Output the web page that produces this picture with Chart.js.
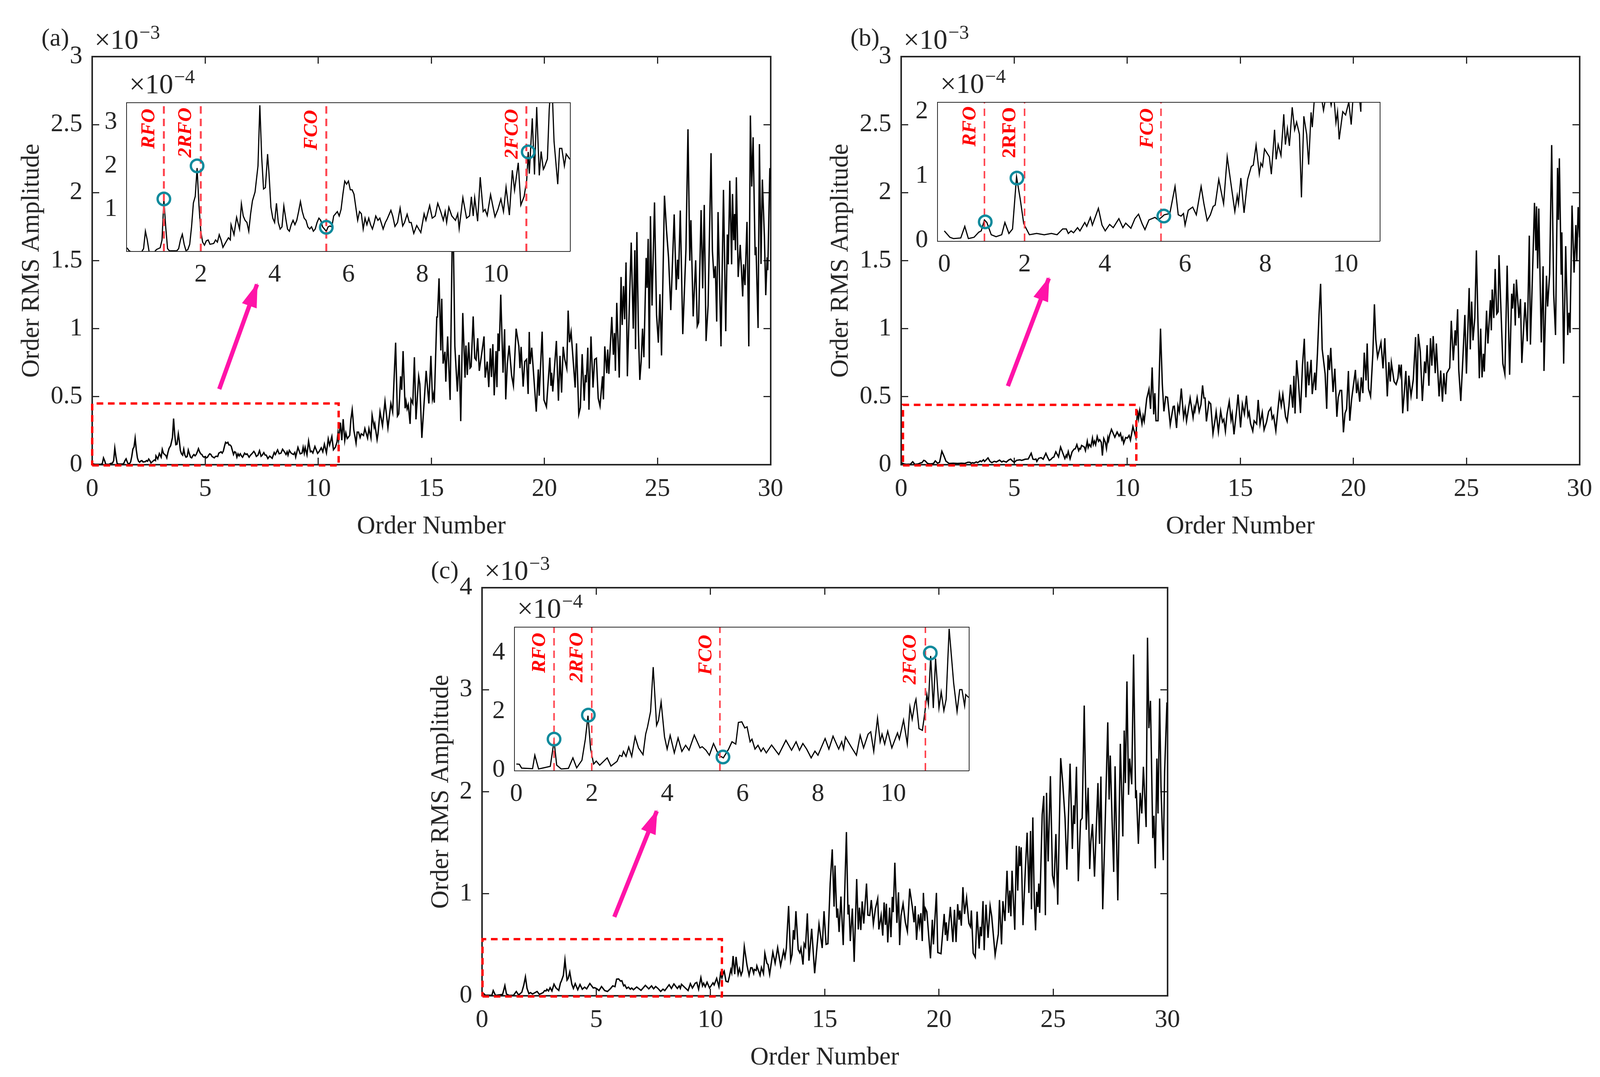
<!DOCTYPE html>
<html>
<head>
<meta charset="utf-8">
<script src="https://cdn.jsdelivr.net/npm/chart.js@4/dist/chart.umd.min.js"></script>
<style>
  html, body { margin: 0; padding: 0; background: #fff; width: 4111px; height: 2758px; overflow: hidden; }
  canvas { position: absolute; }
</style>
</head>
<body>
<script>
// order number, amplitude in units of 1e-4
const traceA = [[0,.12],[.05,.06],[.1,.03],[.4,.03],[.45,.1],[.5,.5],[.55,.3],[.6,.03],[.75,.03],[.8,.08],[.9,.12],[.95,.3],[1,1.22],[1.05,.6],[1.1,.1],[1.15,.05],[1.35,.05],[1.4,.1],[1.45,.3],[1.5,.43],[1.55,.2],[1.6,.05],[1.65,.08],[1.7,.2],[1.75,.6],[1.8,1.15],[1.85,1.3],[1.9,1.95],[1.95,1.1],[2,.5],[2.05,.25],[2.1,.18],[2.15,.28],[2.2,.3],[2.25,.2],[2.35,.22],[2.4,.3],[2.45,.25],[2.5,.42],[2.55,.3],[2.6,.13],[2.7,.28],[2.75,.35],[2.8,.3],[2.82,.65],[2.9,.42],[2.97,.82],[3.05,.55],[3.1,1.13],[3.15,.85],[3.2,.75],[3.25,.7],[3.3,.5],[3.35,.9],[3.4,1.2],[3.47,1.4],[3.55,2],[3.6,3.39],[3.65,2.2],[3.7,1.47],[3.75,1.5],[3.81,2.27],[3.85,1.8],[3.9,1.05],[3.95,.8],[4,.7],[4.05,1.14],[4.1,.7],[4.15,.55],[4.2,.6],[4.25,1.08],[4.3,.8],[4.35,.55],[4.4,.5],[4.45,.65],[4.5,.75],[4.55,.65],[4.6,.75],[4.65,.95],[4.7,1.18],[4.75,.95],[4.8,.8],[4.85,.75],[4.9,.6],[4.95,.55],[5,.6],[5.05,.5],[5.1,.55],[5.15,.7],[5.2,.8],[5.25,.75],[5.3,.6],[5.35,.55],[5.4,.5],[5.45,.6],[5.5,.62],[5.55,.6],[5.6,.85],[5.65,.9],[5.7,.95],[5.75,.85],[5.8,1],[5.85,1.35],[5.9,1.65],[5.95,1.58],[6,1.65],[6.05,1.45],[6.1,1.45],[6.15,1.35],[6.2,1.05],[6.25,.75],[6.3,.95],[6.35,.9],[6.4,.55],[6.45,.8],[6.5,.65],[6.55,.8],[6.6,.65],[6.65,.55],[6.7,.7],[6.74,.85],[6.8,.75],[6.85,.8],[6.94,.55],[7,.7],[7.05,.78],[7.15,.98],[7.2,.85],[7.26,.61],[7.33,.7],[7.4,1.03],[7.47,.62],[7.52,.7],[7.59,.89],[7.65,.7],[7.7,.7],[7.77,.45],[7.85,.63],[7.96,.47],[8.05,.9],[8.1,.75],[8.2,1.09],[8.27,.8],[8.35,.85],[8.42,1.14],[8.5,.95],[8.57,.75],[8.62,.95],[8.66,.7],[8.72,1.05],[8.8,.85],[8.9,.75],[8.96,.9],[9,.56],[9.1,1.27],[9.2,.8],[9.28,.85],[9.33,1.29],[9.38,.85],[9.42,1.27],[9.5,.73],[9.57,1.74],[9.65,.95],[9.7,1],[9.76,.86],[9.85,1.34],[9.97,.83],[10.05,1],[10.13,1.24],[10.2,.95],[10.27,1.51],[10.36,.87],[10.44,1.9],[10.5,1.44],[10.6,2.07],[10.67,1.1],[10.76,1.3],[10.83,1.68],[10.87,2.32],[10.9,1.82],[10.98,3.09],[11.04,1.8],[11.1,3.35],[11.17,1.78],[11.22,2.33],[11.28,1.92],[11.3,1.95],[11.39,2.16],[11.44,3.3],[11.5,4.05],[11.53,3.5],[11.57,2.56],[11.67,1.58],[11.72,2.4],[11.78,2.4],[11.85,2],[11.9,2.27],[12,2.15],[12.06,2.66],[12.18,1.95],[12.24,2.66],[12.33,1.97],[12.38,3.64],[12.47,2.77],[12.5,3],[12.6,1.84],[12.64,2.26],[12.73,3.9],[12.84,2.85],[12.95,4.66],[13.08,2.7],[13.21,4.5],[13.29,3.87],[13.42,8.97],[13.5,3.57],[13.56,3.74],[13.64,6.5],[13.69,5.5],[13.75,8.35],[13.84,4.15],[13.88,4.66],[13.93,4.1],[13.98,4.4],[14.06,3],[14.1,4.8],[14.18,4.5],[14.25,7.9],[14.32,3.33],[14.44,6.5],[14.49,5.94],[14.58,1.97],[14.77,6.9],[14.89,4.5],[14.98,8],[15.05,4.8],[15.1,5.2],[15.13,4.56],[15.24,10.86],[15.27,10.86],[15.34,13.7],[15.42,8.4],[15.46,12.2],[15.52,7.43],[15.6,8.3],[15.64,6.1],[15.72,9.43],[15.83,4.76],[15.93,17.5],[15.97,17],[16.04,8.7],[16.15,5.38],[16.23,8.07],[16.3,3.2],[16.39,11.15],[16.49,6.4],[16.53,8.76],[16.59,6.6],[16.65,9],[16.71,7.1],[16.76,7.2],[16.85,10.9],[16.92,7.84],[16.98,7.7],[17.05,9.3],[17.12,6.9],[17.23,8.2],[17.33,9.43],[17.38,6.4],[17.47,7.58],[17.54,5.7],[17.61,8.55],[17.66,6.45],[17.72,8.86],[17.78,5.1],[17.86,8.35],[17.9,5.7],[17.95,9.65],[18,8.35],[18.07,12.5],[18.17,6.76],[18.24,9.96],[18.29,4.8],[18.36,7.4],[18.44,8.76],[18.55,6.56],[18.63,5.8],[18.75,10],[18.87,8.7],[18.92,7.1],[18.97,8.66],[19.06,5.74],[19.13,7.58],[19.21,7.74],[19.28,5.2],[19.33,9.76],[19.37,7.4],[19.44,8.6],[19.64,3.9],[19.73,7],[19.77,5.07],[19.9,9.78],[19.98,4.76],[20.09,4.25],[20.24,7.87],[20.29,5.8],[20.32,6.76],[20.37,5.38],[20.53,9.1],[20.62,4.7],[20.69,8],[20.76,5.3],[20.83,8.67],[20.9,7.74],[20.99,7.07],[21.05,11.33],[21.11,9],[21.18,9.76],[21.36,5.67],[21.42,8.92],[21.52,3.7],[21.59,4.2],[21.67,8.13],[21.76,4.7],[21.81,6.6],[21.85,6.05],[21.92,8.6],[21.97,4.04],[22.06,9.43],[22.15,5.67],[22.22,7.74],[22.3,7.83],[22.38,4.88],[22.46,4.3],[22.57,6.5],[22.61,4.8],[22.67,8.7],[22.76,6.73],[22.8,8.47],[22.85,6.68],[22.98,10.86],[23.05,8.08],[23.1,9.68],[23.14,6.9],[23.2,11.9],[23.31,6.4],[23.39,13.8],[23.44,10.27],[23.5,13.13],[23.55,10.69],[23.61,14.87],[23.67,6.5],[23.77,12.46],[23.84,16.33],[23.93,10],[24,15.77],[24.03,8.5],[24.09,17.1],[24.16,9.6],[24.22,6.23],[24.28,7.6],[24.34,10],[24.4,7.9],[24.5,15.2],[24.54,13],[24.59,16.6],[24.64,7.07],[24.69,18.27],[24.76,11.7],[24.87,19.28],[24.96,11.03],[25.04,8.97],[25.11,12.54],[25.18,8.03],[25.31,19.78],[25.4,17.26],[25.49,15.24],[25.59,11.36],[25.74,18.4],[25.83,12.85],[25.89,15.07],[25.93,13.64],[26.01,18.69],[26.12,9.6],[26.26,15.82],[26.35,24.66],[26.43,15],[26.48,17.98],[26.58,10.9],[26.69,15.03],[26.76,10.19],[26.82,10.45],[26.93,18.72],[27,12.96],[27.07,19.1],[27.15,9.09],[27.24,11.7],[27.37,22.9],[27.43,15.74],[27.5,13.72],[27.56,14.6],[27.62,10.52],[27.68,18.57],[27.81,8.7],[27.92,20.2],[28.02,9.81],[28.09,16.92],[28.13,14.73],[28.2,20.88],[28.28,14.73],[28.32,19.9],[28.37,16.5],[28.41,18.43],[28.45,15.77],[28.49,21.13],[28.57,13.8],[28.66,16.16],[28.77,12.37],[28.81,14.73],[28.87,13.2],[28.96,17.85],[29.04,8.7],[29.11,25.67],[29.17,20.45],[29.23,24.07],[29.32,15.4],[29.36,16],[29.45,10.05],[29.51,23.57],[29.58,14.76],[29.64,20.96],[29.73,16.75],[29.79,12.46],[29.85,15.24],[29.88,14.3],[29.97,21.8],[30,21]];

const traceB = [[0,.15],[.14,.05],[.23,.03],[.41,.04],[.51,.22],[.6,.03],[.74,.05],[.86,.13],[.92,.15],[1,.32],[1.06,.28],[1.17,.09],[1.29,.06],[1.43,.09],[1.51,.28],[1.61,.11],[1.7,.18],[1.8,.99],[1.89,.65],[1.98,.26],[2.12,.09],[2.3,.11],[2.49,.09],[2.67,.11],[2.81,.09],[2.95,.18],[3.04,.18],[3.09,.11],[3.16,.15],[3.22,.12],[3.32,.2],[3.38,.15],[3.5,.28],[3.55,.22],[3.64,.36],[3.69,.24],[3.84,.5],[3.93,.24],[4.01,.15],[4.12,.25],[4.21,.2],[4.35,.34],[4.45,.2],[4.52,.27],[4.65,.19],[4.75,.34],[4.84,.41],[4.93,.26],[5,.17],[5.1,.32],[5.25,.36],[5.33,.32],[5.41,.36],[5.48,.4],[5.62,.42],[5.75,.84],[5.83,.4],[5.9,.38],[5.96,.42],[6,.24],[6.08,.47],[6.19,.52],[6.28,.4],[6.4,.84],[6.47,.57],[6.55,.31],[6.63,.4],[6.7,.53],[6.75,.55],[6.84,.95],[6.96,.57],[7.05,1.3],[7.24,.45],[7.3,.7],[7.33,.57],[7.39,.97],[7.47,.43],[7.56,.95],[7.65,1.15],[7.7,1.17],[7.77,1.48],[7.85,1.03],[7.89,1.2],[7.93,1.15],[7.98,1.42],[8.1,1.3],[8.15,1.03],[8.23,1.72],[8.27,1.26],[8.32,1.49],[8.39,1.32],[8.46,1.96],[8.5,1.49],[8.55,1.74],[8.6,1.47],[8.67,2.07],[8.73,1.72],[8.78,1.84],[8.85,1.65],[8.9,.67],[8.96,1.93],[9.03,1.65],[9.08,1.18],[9.14,1.99],[9.17,1.76],[9.22,2.18],[9.3,2.6],[9.45,2.02],[9.55,2.4],[9.64,2.1],[9.7,2.3],[9.76,1.83],[9.8,2],[9.84,1.57],[9.93,2],[10,1.95],[10.08,2.15],[10.14,1.8],[10.25,2.8],[10.38,2],[10.45,4],[10.5,3.38],[10.55,4],[10.65,3],[10.7,3.6],[10.75,3.2],[10.86,4.86],[10.96,5.55],[11.03,4.1],[11.1,7.15],[11.17,3.7],[11.22,5.26],[11.27,3.23],[11.36,3.23],[11.47,10],[11.55,5.9],[11.62,3.92],[11.7,5],[11.78,4.95],[11.9,2.93],[12.03,4.28],[12.08,4.3],[12.18,2.7],[12.24,4.33],[12.3,3.88],[12.39,5.6],[12.49,3.47],[12.56,4.14],[12.62,3.2],[12.78,4.9],[12.91,3.47],[12.96,4.2],[12.99,3.95],[13.09,4.93],[13.18,3.9],[13.26,4.43],[13.33,5.83],[13.39,4.9],[13.44,4.9],[13.5,3.18],[13.61,4.62],[13.69,4.47],[13.79,2.28],[13.89,3.38],[13.93,3.9],[14.03,2.42],[14.13,3.95],[14.21,3.14],[14.27,3.33],[14.34,2.45],[14.41,3.71],[14.51,4.65],[14.59,3.28],[14.64,3.76],[14.72,2.23],[14.84,4.09],[14.9,5.16],[15.01,2.74],[15.09,4.45],[15.18,3.73],[15.27,5.07],[15.34,3.57],[15.39,3.85],[15.45,3.04],[15.55,2.47],[15.61,3.23],[15.72,3],[15.79,4.76],[15.87,2.97],[15.97,3.85],[16.05,2.56],[16.16,3.14],[16.25,3.9],[16.35,4.17],[16.41,3.38],[16.47,3.6],[16.57,2.49],[16.73,5.19],[16.81,4.33],[16.88,5.17],[17,3.52],[17.07,3.18],[17.15,4.33],[17.22,5.88],[17.32,4.19],[17.37,6.53],[17.42,3.76],[17.49,7.68],[17.57,6.1],[17.66,3.8],[17.75,7.35],[17.83,9.26],[17.9,4.95],[17.97,7.58],[18.03,5.83],[18.13,7.71],[18.18,5.19],[18.29,6.77],[18.33,5.48],[18.41,8.16],[18.48,11],[18.55,13.3],[18.62,8.5],[18.75,6.68],[18.82,4.11],[18.88,8.06],[18.94,6.96],[19,8.59],[19.1,5.34],[19.18,7.06],[19.27,3.52],[19.33,4.95],[19.41,5.46],[19.48,5.46],[19.56,2.38],[19.63,3.78],[19.7,4.09],[19.78,6.89],[19.84,3.23],[19.92,4.79],[20.09,6.97],[20.14,5.26],[20.2,6],[20.28,4.63],[20.35,6.42],[20.42,5.26],[20.48,8.24],[20.56,6.19],[20.61,8.91],[20.67,5.57],[20.76,5.02],[20.86,8.13],[20.93,11.79],[20.99,9.22],[21.07,7.9],[21.22,8.99],[21.31,7.08],[21.39,9.3],[21.5,5.02],[21.57,7.54],[21.63,6.11],[21.68,7.51],[21.8,6.11],[21.89,5.9],[21.97,6.35],[22.02,7.36],[22.07,6.65],[22.12,7.36],[22.18,3.78],[22.25,5.26],[22.32,6.89],[22.4,3.93],[22.45,6.55],[22.55,5.05],[22.65,6.27],[22.75,9.38],[22.81,4.84],[22.87,9.61],[22.96,8.29],[23.05,4.68],[23.15,7.59],[23.2,6.73],[23.26,8.79],[23.34,5.8],[23.41,9.3],[23.47,7.28],[23.53,9.46],[23.62,6.73],[23.67,8.91],[23.79,5.02],[23.86,6.92],[23.94,4.63],[24,6.73],[24.08,5.18],[24.13,6.73],[24.26,7.12],[24.33,10.58],[24.42,7.67],[24.5,9.88],[24.54,8.76],[24.61,11.43],[24.66,6.97],[24.75,4.68],[24.83,7.36],[24.93,11.01],[25,6.7],[25.12,12.99],[25.17,8.48],[25.23,11.99],[25.29,9.14],[25.37,10.78],[25.44,15.75],[25.51,10.47],[25.57,6.35],[25.63,10],[25.69,6.42],[25.75,8.16],[25.79,6.85],[25.89,11.32],[25.95,8.91],[26.06,12.1],[26.1,9.88],[26.14,12.88],[26.21,10.78],[26.27,14.39],[26.34,11.09],[26.4,11.24],[26.44,15.41],[26.53,11.24],[26.61,7.43],[26.7,6.66],[26.8,14.63],[26.91,6.61],[27,12.57],[27.04,11.48],[27.1,13.31],[27.16,10.23],[27.21,13.61],[27.32,10.78],[27.39,12.18],[27.45,7.48],[27.59,11.94],[27.69,9.07],[27.78,16.84],[27.83,8.83],[27.89,12.18],[28.01,19.25],[28.07,15.75],[28.1,18.99],[28.15,14.43],[28.2,18.83],[28.31,8.99],[28.39,14.59],[28.43,6.89],[28.54,13.89],[28.59,11.63],[28.68,14.04],[28.77,23.5],[28.86,12.49],[28.94,9.53],[29.03,21.82],[29.07,18],[29.11,22.52],[29.19,13.97],[29.22,17.08],[29.3,7.43],[29.39,16.07],[29.48,9.53],[29.53,11.17],[29.58,9.69],[29.67,19.05],[29.76,14.12],[29.84,17.62],[29.88,14.95],[29.94,18.94],[30,16.7]];

const traceC = [[0,.21],[.08,.2],[.14,.07],[.43,.05],[.49,.51],[.59,.04],[.9,.13],[1,1],[1.07,.17],[1.19,.04],[1.38,.06],[1.5,.42],[1.6,.08],[1.74,.34],[1.83,1.06],[1.9,1.86],[1.97,.72],[2.05,.21],[2.12,.31],[2.21,.17],[2.41,.42],[2.51,.14],[2.67,.3],[2.74,.51],[2.8,.47],[2.84,.64],[2.91,.47],[2.98,.79],[3.06,.47],[3.15,1.14],[3.24,.76],[3.36,.53],[3.43,1.23],[3.48,1.48],[3.56,2],[3.63,3.52],[3.72,1.53],[3.77,1.7],[3.84,2.33],[3.93,1.14],[4,.72],[4.08,1.19],[4.19,.59],[4.29,1.1],[4.39,.64],[4.49,.85],[4.58,.68],[4.72,1.2],[4.87,.76],[4.93,.8],[5.03,.68],[5.12,.51],[5.23,.91],[5.37,.51],[5.49,.42],[5.63,.72],[5.72,.97],[5.82,.89],[5.89,1.63],[5.98,1.65],[6.06,1.44],[6.12,1.48],[6.2,.97],[6.25,1.06],[6.33,.72],[6.41,.85],[6.49,.64],[6.55,.76],[6.63,.59],[6.77,.86],[6.96,.53],[7.15,1.02],[7.3,.68],[7.42,.97],[7.51,.68],[7.6,.91],[7.7,.72],[7.82,.42],[7.92,.65],[8,.51],[8.19,1.08],[8.29,.72],[8.4,1.16],[8.55,.72],[8.63,.97],[8.68,.72],[8.73,1.13],[8.88,.8],[9.02,.51],[9.12,1.19],[9.21,.76],[9.33,1.23],[9.4,1.31],[9.48,.64],[9.58,1.78],[9.65,.97],[9.7,1.23],[9.77,.89],[9.85,1.33],[9.96,.76],[10.11,1.27],[10.16,1.06],[10.27,1.71],[10.37,.89],[10.44,2.16],[10.5,1.74],[10.57,2.29],[10.6,2.42],[10.68,1.42],[10.77,1.36],[10.83,1.91],[10.89,2.58],[10.93,2.25],[10.99,3.9],[11.06,2.12],[11.12,3.81],[11.21,2.12],[11.27,2.67],[11.34,2.03],[11.4,2.42],[11.48,4.83],[11.6,2.97],[11.69,2],[11.76,2.75],[11.82,2.75],[11.89,2.2],[11.92,2.58],[12,2.48],[12.03,2.93],[12.17,2],[12.23,2.77],[12.32,2.17],[12.38,4.17],[12.47,3.19],[12.52,3.06],[12.59,2.1],[12.73,4.27],[12.83,3.19],[12.94,4.72],[13.07,2.93],[13.2,4.4],[13.26,3.76],[13.32,4.66],[13.42,8.8],[13.51,3.44],[13.57,4.02],[13.63,6.44],[13.68,5.5],[13.74,8.29],[13.84,4.53],[13.91,4.21],[13.96,4.66],[14.05,3.06],[14.1,5.1],[14.16,4.78],[14.24,8.07],[14.31,3.44],[14.43,6.57],[14.56,2.21],[14.75,7.02],[14.89,4.68],[14.97,8.29],[15.06,5.04],[15.14,5.1],[15.24,11.03],[15.33,14.35],[15.41,8.74],[15.45,12.76],[15.53,7.65],[15.57,8.55],[15.63,6.25],[15.71,9.73],[15.81,4.97],[15.95,16.05],[16.02,7.97],[16.06,8.93],[16.12,5.36],[16.21,8.55],[16.29,3.32],[16.4,11.44],[16.47,6.5],[16.52,8.64],[16.58,6.44],[16.64,9.25],[16.71,7.08],[16.83,11],[16.89,7.9],[16.97,7.87],[17.04,9.38],[17.13,7.02],[17.22,8.55],[17.32,9.53],[17.37,6.5],[17.47,7.9],[17.54,5.9],[17.6,9.15],[17.66,6.95],[17.7,9.02],[17.76,5.23],[17.84,8.64],[17.9,5.74],[17.96,9.69],[18,8.2],[18.07,13.04],[18.16,7.14],[18.23,10.14],[18.28,4.97],[18.34,7.84],[18.43,9.02],[18.53,7.2],[18.62,6.29],[18.72,10.5],[18.83,8.8],[18.91,7.2],[18.96,8.8],[19.02,5.48],[19.1,7.97],[19.15,6.85],[19.21,8.1],[19.27,5.36],[19.32,10.08],[19.38,7.33],[19.41,8.55],[19.47,8.25],[19.63,3.67],[19.71,7.45],[19.76,5.04],[19.89,10.08],[19.95,4.24],[20.09,4.12],[20.23,8.02],[20.28,5.96],[20.32,7.2],[20.37,5.38],[20.5,8.71],[20.61,5.27],[20.68,8.43],[20.75,5.27],[20.82,8.98],[20.88,7.45],[20.92,8.36],[20.98,6.87],[21.05,10.65],[21.12,8.02],[21.21,9.62],[21.31,7.1],[21.38,6.76],[21.42,8.36],[21.5,4.17],[21.59,3.78],[21.67,8.25],[21.76,4.63],[21.81,6.76],[21.86,5.84],[21.93,9.28],[21.98,4.47],[22.06,8.93],[22.15,5.68],[22.24,8.82],[22.31,7.79],[22.46,4],[22.6,6.07],[22.65,9.39],[22.74,5.04],[22.8,9.28],[22.89,7.33],[22.98,12.26],[23.05,8.13],[23.1,10.31],[23.15,7.79],[23.2,12.26],[23.32,6.46],[23.39,14.71],[23.45,10.31],[23.51,14.66],[23.55,12.71],[23.6,14.55],[23.68,6.92],[23.78,12.26],[23.86,15.99],[23.94,10.08],[24.01,16.15],[24.05,8.48],[24.11,17.48],[24.17,9.62],[24.23,6.41],[24.28,10.19],[24.33,8.7],[24.37,11],[24.41,8.13],[24.52,17.75],[24.59,19.59],[24.66,7.9],[24.71,19.89],[24.78,13.17],[24.88,21.53],[24.97,11.8],[25.04,11],[25.12,15.85],[25.2,8.93],[25.33,23.3],[25.42,20.85],[25.52,17.41],[25.6,12.37],[25.74,22.75],[25.84,14.39],[25.9,18.67],[25.94,16.84],[26.02,22.45],[26.1,11.23],[26.2,17.18],[26.27,17.41],[26.36,28.45],[26.45,16.27],[26.53,20.39],[26.6,12.42],[26.65,15.12],[26.72,16.84],[26.81,11.68],[26.96,20.85],[27.03,14.89],[27.09,21.49],[27.17,8.48],[27.27,16.27],[27.39,26.8],[27.45,19.24],[27.5,23.55],[27.58,17.18],[27.65,12.14],[27.71,22.5],[27.83,9.35],[27.94,24.7],[28.05,15.62],[28.11,26],[28.16,20.85],[28.23,30.81],[28.3,19.7],[28.35,23.25],[28.44,20.73],[28.52,33.45],[28.61,19.36],[28.64,20.16],[28.73,14.89],[28.81,19.89],[28.88,17.87],[28.95,22.45],[29.07,16.54],[29.13,35.1],[29.19,26.23],[29.26,28.91],[29.36,15.46],[29.41,17.64],[29.47,12.49],[29.54,23.25],[29.59,17.87],[29.66,29.14],[29.72,20.5],[29.82,13.29],[29.88,22],[29.98,28.75],[30,28]];

// marked orders and circled peaks in the insets
const rfoLinesA = [1, 2, 5.4, 10.82];
const rfoLinesB = [1, 2, 5.4];
const rfoLinesC = [1, 2, 5.4, 10.85];
const circlesA = [[1, 1.24], [1.9, 2], [5.4, .59], [10.87, 2.32]];
const circlesB = [[1.02, .29], [1.81, .97], [5.47, .38]];
const circlesC = [[1, 1.06], [1.91, 1.88], [5.48, .45], [10.98, 4]];
const orderNamesA = ['RFO', '2RFO', 'FCO', '2FCO'];
const orderNamesB = ['RFO', '2RFO', 'FCO'];
const orderNamesC = ['RFO', '2RFO', 'FCO', '2FCO'];

// zoomed region box and arrow, in main axis units
const boxA = [[0, -.005], [10.9, -.005], [10.9, .45], [0, .45], [0, -.005]];
const boxB = [[.08, -.005], [10.4, -.005], [10.4, .44], [.08, .44], [.08, -.005]];
const boxC = [[.02, -.007], [10.5, -.007], [10.5, .555], [.02, .555], [.02, -.007]];
const arrowA = [[5.62, .556], [7.29, 1.325]];
const arrowB = [[4.72, .578], [6.53, 1.37]];
const arrowC = [[5.79, .773], [7.65, 1.81]];

// ticks
const mainXTicks = [0, 5, 10, 15, 20, 25, 30];
const mainYTicksAB = [0, .5, 1, 1.5, 2, 2.5, 3];
const mainYTicksC = [0, 1, 2, 3, 4];
const insetXTicksA = [2, 4, 6, 8, 10];
const insetXTicksBC = [0, 2, 4, 6, 8, 10];
const insetYTicksA = [1, 2, 3];
const insetYTicksB = [0, 1, 2];
const insetYTicksC = [0, 2, 4];

const INK = '#262626';
const SERIF = '"Liberation Serif", serif';
const TEAL = '#108a9c';
const DASH_RED = '#ff4650';
const BOX_RED = '#ff0000';
const PINK = '#ff14a8';

Chart.defaults.font.family = SERIF;
Chart.defaults.color = INK;
Chart.defaults.animation = false;

function pts(pairs, k) {
    return pairs.map(p => ({x: p[0], y: p[1] * k}));
}

// draws "×10" with a raised exponent above the top left corner
function exponentText(chart, exp, dy) {
    let ctx = chart.ctx, a = chart.chartArea;
    ctx.save();
    ctx.fillStyle = INK;
    ctx.textAlign = 'left';
    ctx.textBaseline = 'alphabetic';
    ctx.font = '72px ' + SERIF;
    let x = a.left + 6;
    ctx.fillText('×10', x, a.top - dy);
    let w = ctx.measureText('×10').width;
    ctx.font = '50px ' + SERIF;
    ctx.fillText('−' + exp, x + w + 2, a.top - dy - 26);
    ctx.restore();
}

function axisOptions(min, max, ticks, pos, opt) {
    let isX = pos === 'bottom' || pos === 'top';
    let shown = pos === 'bottom' || pos === 'left';
    return {
        type: 'linear',
        position: pos,
        min: min,
        max: max,
        afterBuildTicks: s => { s.ticks = ticks.map(v => ({value: v})); },
        afterFit: s => {
            if (isX) s.height = shown ? opt.bottomSpace : 0;
            else s.width = shown ? opt.leftSpace : 0;
        },
        border: {display: true, color: INK, width: opt.axisWidth},
        grid: {drawOnChartArea: false, drawTicks: true, tickLength: -opt.tickLen, tickWidth: 3, tickColor: INK},
        ticks: {
            display: shown,
            autoSkip: false,
            maxRotation: 0,
            color: INK,
            padding: isX ? opt.xPad : opt.yPad,
            font: {size: 65, family: SERIF},
            callback: v => String(v)
        },
        title: shown && opt.titles ? {
            display: true,
            text: isX ? 'Order Number' : 'Order RMS Amplitude',
            color: INK,
            font: {size: 65, family: SERIF},
            padding: isX ? {top: 0, bottom: 0} : {top: opt.titlePad, bottom: 0}
        } : {display: false}
    };
}

function place(canvas, left, top, w, h) {
    canvas.width = w;
    canvas.height = h;
    canvas.style.left = left + 'px';
    canvas.style.top = top + 'px';
    canvas.style.width = w + 'px';
    canvas.style.height = h + 'px';
    document.body.appendChild(canvas);
}

function makeMain(cfg) {
    // right padding has to stay above the room the last tick label asks for
    const W = 234, T = 145, H = 198, R = 70;
    let canvas = document.createElement('canvas');
    canvas.style.zIndex = 1;
    let plotW = cfg.right - cfg.left, plotH = cfg.bottom - cfg.top;
    place(canvas, cfg.left - W, cfg.top - T, plotW + W + R, plotH + T + H);
    let opt = {bottomSpace: H, leftSpace: W, axisWidth: 4, tickLen: 18, xPad: 42, yPad: 43, titles: true, titlePad: cfg.titlePad};

    return new Chart(canvas, {
        type: 'line',
        data: {
            datasets: [
                {data: pts(cfg.trace, .1), borderColor: '#000', borderWidth: 3.5, pointRadius: 0, tension: 0, order: 3},
                {data: pts(cfg.box, 1), borderColor: BOX_RED, borderWidth: 6, borderDash: [17, 12], pointRadius: 0, tension: 0, clip: false, order: 2},
                {data: pts(cfg.arrow, 1), borderColor: PINK, borderWidth: 11, pointRadius: 0, tension: 0, clip: false, order: 1}
            ]
        },
        options: {
            responsive: false,
            devicePixelRatio: 1,
            parsing: false,
            layout: {padding: {top: T, right: R, left: 0, bottom: 0}},
            plugins: {legend: {display: false}, tooltip: {enabled: false}},
            scales: {
                x: axisOptions(0, 30, mainXTicks, 'bottom', opt),
                y: axisOptions(0, cfg.yMax, cfg.yTicks, 'left', opt),
                x2: axisOptions(0, 30, mainXTicks, 'top', opt),
                y2: axisOptions(0, cfg.yMax, cfg.yTicks, 'right', opt)
            }
        },
        plugins: [{
            id: 'mainNotes',
            afterDraw(chart) {
                let ctx = chart.ctx, sx = chart.scales.x, sy = chart.scales.y;
                exponentText(chart, 3, 20);
                ctx.save();
                ctx.fillStyle = INK;
                ctx.font = '64px ' + SERIF;
                ctx.textAlign = 'left';
                ctx.textBaseline = 'middle';
                ctx.fillText(cfg.tag, cfg.tagX - (cfg.left - W), cfg.tagY - (cfg.top - T));
                // arrow head at the end of the shaft
                let a0 = cfg.arrow[0], a1 = cfg.arrow[1];
                let x0 = sx.getPixelForValue(a0[0]), y0 = sy.getPixelForValue(a0[1]);
                let x1 = sx.getPixelForValue(a1[0]), y1 = sy.getPixelForValue(a1[1]);
                let ang = Math.atan2(y1 - y0, x1 - x0);
                ctx.translate(x1, y1);
                ctx.rotate(ang);
                ctx.fillStyle = PINK;
                ctx.beginPath();
                ctx.moveTo(4, 0);
                ctx.lineTo(-58, -20);
                ctx.lineTo(-58, 20);
                ctx.closePath();
                ctx.fill();
                ctx.restore();
            }
        }]
    });
}

function makeInset(cfg) {
    const W = 100, T = 110, H = 110, R = 40;
    let canvas = document.createElement('canvas');
    canvas.style.zIndex = 2;
    let plotW = cfg.right - cfg.left, plotH = cfg.bottom - cfg.top;
    place(canvas, cfg.left - W, cfg.top - T, plotW + W + R, plotH + T + H);
    let opt = {bottomSpace: H, leftSpace: W, axisWidth: 4, tickLen: 11, xPad: 33, yPad: 36, titles: false};

    let sets = [{data: pts(cfg.trace, 1), borderColor: '#000', borderWidth: 3, pointRadius: 0, tension: 0, order: 3}];
    cfg.lines.forEach(x => {
        sets.push({
            data: [{x: x, y: cfg.yMin}, {x: x, y: cfg.yMax}],
            borderColor: DASH_RED, borderWidth: cfg.dashWidth, borderDash: [19, 13],
            pointRadius: 0, tension: 0, order: 2
        });
    });
    sets.push({
        data: pts(cfg.circles, 1), showLine: false, pointRadius: 16, pointBorderWidth: 6,
        pointBorderColor: TEAL, pointBackgroundColor: 'rgba(0,0,0,0)', order: 1
    });

    return new Chart(canvas, {
        type: 'line',
        data: {datasets: sets},
        options: {
            responsive: false,
            devicePixelRatio: 1,
            parsing: false,
            layout: {padding: {top: T, right: R, left: 0, bottom: 0}},
            plugins: {legend: {display: false}, tooltip: {enabled: false}},
            scales: {
                x: axisOptions(cfg.xMin, cfg.xMax, cfg.xTicks, 'bottom', opt),
                y: axisOptions(cfg.yMin, cfg.yMax, cfg.yTicks, 'left', opt),
                x2: axisOptions(cfg.xMin, cfg.xMax, cfg.xTicks, 'top', opt),
                y2: axisOptions(cfg.yMin, cfg.yMax, cfg.yTicks, 'right', opt)
            }
        },
        plugins: [{
            id: 'insetNotes',
            beforeDatasetsDraw(chart) {
                let a = chart.chartArea;
                chart.ctx.save();
                chart.ctx.fillStyle = '#fff';
                chart.ctx.fillRect(a.left, a.top, a.right - a.left, a.bottom - a.top);
                chart.ctx.restore();
            },
            afterDraw(chart) {
                let ctx = chart.ctx, sx = chart.scales.x, sy = chart.scales.y;
                exponentText(chart, 4, 25);
                cfg.names.forEach((name, i) => {
                    ctx.save();
                    ctx.translate(sx.getPixelForValue(cfg.nameX[i]), sy.getPixelForValue(cfg.nameY[i]));
                    ctx.rotate(-Math.PI / 2);
                    ctx.fillStyle = '#ff0000';
                    ctx.textAlign = 'left';
                    ctx.textBaseline = 'middle';
                    // the 2RFO label of panel (b) is upright in the figure
                    let style = cfg.upright === name ? 'bold 50px ' : 'italic bold 50px ';
                    ctx.font = style + SERIF;
                    ctx.fillText(name, 0, 0);
                    ctx.restore();
                });
            }
        }]
    });
}

// panel (a)
makeMain({left: 236, right: 1977, top: 145, bottom: 1190, yMax: 3, yTicks: mainYTicksAB, titlePad: 41,
    trace: traceA, box: boxA, arrow: arrowA, tag: '(a)', tagX: 106, tagY: 100});
makeInset({left: 325, right: 1459, top: 264, bottom: 643, xMin: 0, xMax: 12, yMin: .044, yMax: 3.44,
    xTicks: insetXTicksA, yTicks: insetYTicksA, trace: traceA, lines: rfoLinesA, circles: circlesA, dashWidth: 5,
    names: orderNamesA, nameX: [.6, 1.6, 5.01, 10.44], nameY: [2.39, 2.19, 2.36, 2.16]});

// panel (b)
makeMain({left: 2307, right: 4048, top: 145, bottom: 1190, yMax: 3, yTicks: mainYTicksAB, titlePad: 41,
    trace: traceB, box: boxB, arrow: arrowB, tag: '(b)', tagX: 2177, tagY: 100});
makeInset({left: 2401, right: 3532, top: 263, bottom: 617, xMin: -.16, xMax: 10.85, yMin: -.006, yMax: 2.14,
    xTicks: insetXTicksBC, yTicks: insetYTicksB, trace: traceB, lines: rfoLinesB, circles: circlesB, dashWidth: 4,
    names: orderNamesB, nameX: [.65, 1.64, 5.07], nameY: [1.46, 1.28, 1.43], upright: '2RFO'});

// panel (c)
makeMain({left: 1234, right: 2993, top: 1505, bottom: 2550, yMax: 4, yTicks: mainYTicksC, titlePad: 91,
    trace: traceC, box: boxC, arrow: arrowC, tag: '(c)', tagX: 1103, tagY: 1464});
makeInset({left: 1318, right: 2480, top: 1607, bottom: 1973, xMin: -.04, xMax: 12, yMin: -.01, yMax: 4.87,
    xTicks: insetXTicksBC, yTicks: insetYTicksC, trace: traceC, lines: rfoLinesC, circles: circlesC, dashWidth: 4,
    names: orderNamesC, nameX: [.62, 1.62, 5.04, 10.46], nameY: [3.32, 3, 3.25, 2.93]});
</script>
</body>
</html>
